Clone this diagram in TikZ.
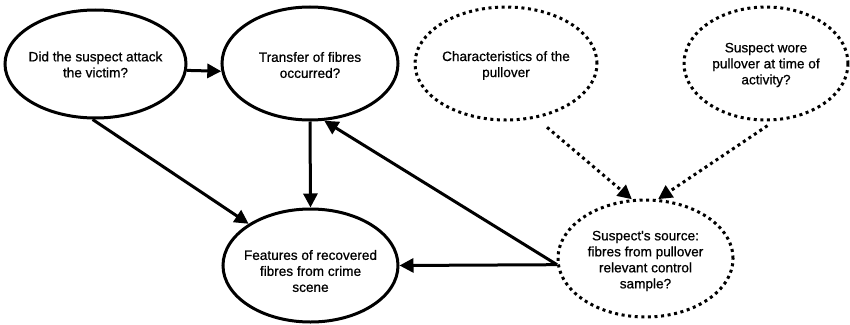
\documentclass[tikz,border=0pt]{standalone}
\usepackage{fontspec}
\setmainfont{Liberation Sans}
\newfontfamily\medfont{Liberation Sans}[FakeBold=0.7]
\usetikzlibrary{shapes.geometric,arrows.meta}
\begin{document}
\begin{tikzpicture}[x=1pt,y=-1pt,
  bub/.style={ellipse,draw=black,line width=3pt,inner sep=0pt,fill=white},
  dotbub/.style={bub,dash pattern=on 3pt off 3.6pt},
  txt/.style={align=center,font=\medfont\fontsize{13.6}{16}\selectfont,inner sep=0pt},
  arr/.style={line width=3pt,-{Triangle[length=14pt,width=14pt]}},
  dotarr/.style={arr,dash pattern=on 3pt off 3.6pt}]
\useasboundingbox (0,0) rectangle (850,324);
\node[bub,minimum width=181pt,minimum height=108pt] (A) at (95.5,64) {};
\node[txt] (At) at (95.5,64.5) {Did the suspect attack\\the victim?};
\node[bub,minimum width=176pt,minimum height=113pt] (B) at (310,63.5) {};
\node[txt] (Bt) at (310,65) {Transfer of fibres\\occurred?};
\node[dotbub,minimum width=182pt,minimum height=113pt] (C) at (506,63.5) {};
\node[txt] (Ct) at (506,65.5) {Characteristics of the\\pullover};
\node[dotbub,minimum width=164pt,minimum height=113pt] (D) at (766,63.5) {};
\node[txt] (Dt) at (766,65) {Suspect wore\\pullover at time of\\activity?};
\node[bub,minimum width=175pt,minimum height=113pt] (E) at (310.5,265.5) {};
\node[txt] (Et) at (310.5,271) {Features of recovered\\fibres from crime\\scene};
\node[dotbub,minimum width=175pt,minimum height=117pt] (F) at (645.5,258.5) {};
\node[txt] (Ft) at (645.5,261) {Suspect's source:\\fibres from pullover\\relevant control\\sample?};
\draw[arr] (A.-4.5) -- (B.-175);
\draw[arr] (A.-93) -- (E.146);
\draw[arr] (B.south) -- (E.north);
\draw[arr] (F.184) -- (E.east);
\draw[arr] (F.184) -- (B.-76);
\draw[dotarr,shorten <=14pt] (C.-61) -- (F.103);
\draw[dotarr,shorten <=8pt] (D.-82) -- (F.78);
\end{tikzpicture}
\end{document}
